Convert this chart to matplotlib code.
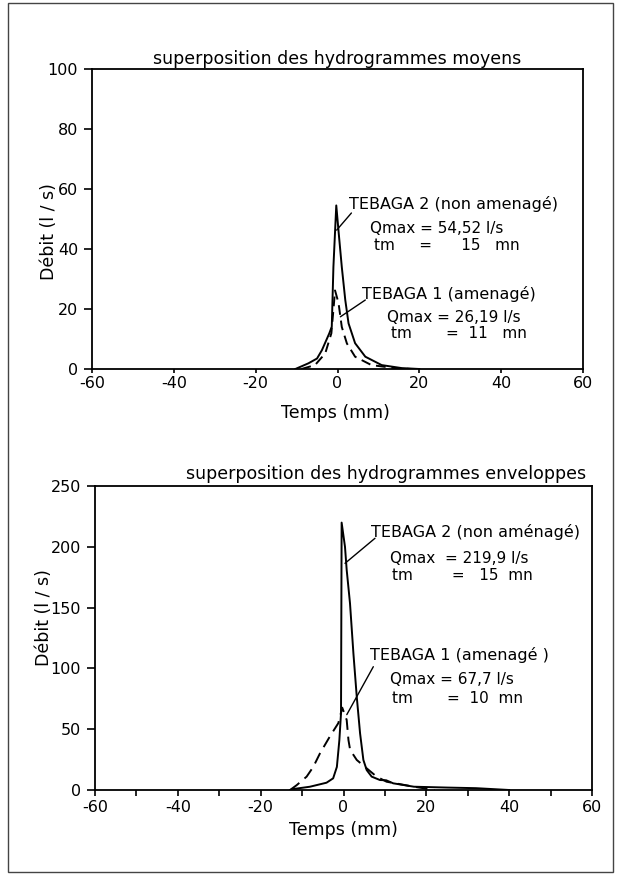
import matplotlib
matplotlib.use("Agg")
import matplotlib.pyplot as plt
from matplotlib.patches import Rectangle
from matplotlib.transforms import ScaledTranslation

# ---- data ----
# top panel: mean hydrographs
t2_moy_x = [-10.3, -7.1, -5.0, -3.8, -2.0, -1.4, -1.0, -0.3, 0.25, 1.05, 1.9, 2.7, 4.3, 6.8, 10.8, 15.7, 20.0]
t2_moy_y = [0.0, 1.9, 3.5, 6.3, 11.9, 14.1, 34.0, 54.52, 46.0, 34.0, 23.0, 15.2, 8.6, 4.1, 1.3, 0.3, 0.0]
t1_moy_x = [-8.8, -5.5, -3.0, -1.5, -1.0, -0.6, 0.25, 1.05, 2.3, 4.3, 8.3, 14.0, 18.0]
t1_moy_y = [0.0, 1.3, 5.2, 11.9, 19.7, 26.19, 22.0, 14.0, 8.5, 4.1, 1.3, 0.3, 0.0]

# bottom panel: envelope hydrographs
t2_env_x = [-12.9, -12.1, -8.1, -4.1, -2.5, -1.6, -1.0, -0.6, -0.45, 0.36, 0.77, 1.57, 2.4, 3.2, 4.0, 4.8,
            5.6, 6.8, 8.8, 10.3, 12.0, 17.0, 25.0, 32.0, 40.0]
t2_env_y = [0.0, 0.8, 2.7, 6.0, 9.6, 19.0, 41.0, 63.0, 219.9, 200.0, 181.0, 153.5, 112.0, 76.7, 46.6, 24.7,
            16.4, 11.0, 8.2, 8.0, 5.5, 2.7, 2.0, 1.5, 0.0]
t1_env_x = [-12.9, -11.3, -8.9, -7.3, -5.7, -3.3, -1.25, -0.3, 0.77, 1.2, 1.6, 3.2, 5.6, 8.0, 10.4, 17.0, 22.0]
t1_env_y = [0.0, 4.0, 11.0, 19.0, 30.0, 44.0, 55.0, 67.7, 57.6, 41.0, 33.0, 24.7, 17.8, 11.0, 6.8, 2.7, 0.0]

x_ticks = [-60, -40, -20, 0, 20, 40, 60]
x_minor_bot = [-50, -30, -10, 10, 30, 50]
y_ticks_top = [0, 20, 40, 60, 80, 100]
y_ticks_bot = [0, 50, 100, 150, 200, 250]

title_top = "superposition des hydrogrammes moyens"
title_bot = "superposition des hydrogrammes enveloppes"

plt.rcParams['font.family'] = ['DejaVu Sans']
FS_TICK = 11.5
FS_LAB = 12.5
FS_HEAD = 11.5
FS_TXT = 11

fig = plt.figure(figsize=(6.17, 8.75), dpi=100)
fig.patch.set_facecolor('white')

# scanned page frame
fig.add_artist(Rectangle((8 / 617, 3 / 875), (613 - 8) / 617, (872 - 3) / 875,
                         transform=fig.transFigure, fill=False, lw=1.0, edgecolor='#444444'))

ax1 = fig.add_axes([92 / 617, 1 - 369 / 875, (583 - 92) / 617, 300 / 875])
ax2 = fig.add_axes([95 / 617, 1 - 790 / 875, (592 - 95) / 617, 304 / 875])

lw = 1.4
ax1.plot(t2_moy_x, t2_moy_y, color='black', lw=lw)
ax1.plot(t1_moy_x, t1_moy_y, color='black', lw=lw, dashes=(5, 3))
ax2.plot(t2_env_x, t2_env_y, color='black', lw=lw)
ax2.plot(t1_env_x, t1_env_y, color='black', lw=lw, dashes=(6, 3.5))

for ax, yt, ymax in ((ax1, y_ticks_top, 100), (ax2, y_ticks_bot, 250)):
    ax.set_xlim(-60, 60)
    ax.set_ylim(0, ymax)
    ax.set_xticks(x_ticks)
    ax.set_xticklabels([("-%d" % -v) if v < 0 else str(v) for v in x_ticks])
    ax.set_yticks(yt)
    for s in ax.spines.values():
        s.set_linewidth(1.3)
    ax.tick_params(axis='x', direction='out', length=4, width=1.2, labelsize=FS_TICK, pad=2)
    ax.tick_params(axis='y', direction='out', length=6, width=1.2, labelsize=FS_TICK, pad=4)
    ax.set_xlabel("Temps (mm)", fontsize=FS_LAB)
    ax.set_ylabel("Débit (l / s)", fontsize=FS_LAB)
    # the first x label sits slightly to the right of its tick in the reference
    first = ax.get_xticklabels()[0]
    first.set_transform(first.get_transform() + ScaledTranslation(4 / 100, 0, fig.dpi_scale_trans))

ax1.tick_params(axis='x', length=3, pad=2)
ax2.set_xticks(x_minor_bot, minor=True)
ax2.tick_params(axis='x', which='minor', direction='out', length=4, width=1.2)
ax2.tick_params(axis='x', which='major', pad=3)

ax1.yaxis.set_label_coords(-0.069, 0.457)
ax2.yaxis.set_label_coords(-0.085, 0.566)
ax1.xaxis.set_label_coords(0.495, -0.117)
ax2.xaxis.set_label_coords(0.50, -0.103)

ax1.text(0.50, 1.035, title_top, transform=ax1.transAxes, ha='center', va='center', fontsize=FS_LAB)
ax2.text(0.585, 1.04, title_bot, transform=ax2.transAxes, ha='center', va='center', fontsize=FS_LAB)

leader = dict(arrowstyle='-', lw=1.0, color='black', shrinkA=0, shrinkB=0)


def note(ax, x, y, s, fs=FS_TXT):
    ax.text(x, y, s, fontsize=fs, va='center', ha='left')


# top annotations
ax1.annotate("", xy=(-0.2, 46.3), xytext=(3.4, 52.0), arrowprops=leader)
note(ax1, 2.9, 55.0, "TEBAGA 2 (non amenagé)", FS_HEAD)
note(ax1, 8.0, 46.7, "Qmax = 54,52 l/s")
note(ax1, 8.8, 41.3, "tm     =      15   mn")

ax1.annotate("", xy=(0.7, 17.4), xytext=(6.8, 23.0), arrowprops=leader)
note(ax1, 5.9, 25.0, "TEBAGA 1 (amenagé)", FS_HEAD)
note(ax1, 12.0, 17.3, "Qmax = 26,19 l/s")
note(ax1, 13.0, 11.9, "tm       =  11   mn")

# bottom annotations
ax2.annotate("", xy=(0.36, 186.4), xytext=(7.6, 207.0), arrowprops=leader)
note(ax2, 6.6, 212.4, "TEBAGA 2 (non aménagé)", FS_HEAD)
note(ax2, 11.2, 190.0, "Qmax  = 219,9 l/s")
note(ax2, 11.6, 176.6, "tm        =   15  mn")

ax2.annotate("", xy=(0.8, 62.0), xytext=(7.2, 101.4), arrowprops=leader)
note(ax2, 6.4, 111.0, "TEBAGA 1 (amenagé )", FS_HEAD)
note(ax2, 11.2, 91.0, "Qmax = 67,7 l/s")
note(ax2, 11.6, 75.0, "tm       =  10  mn")

fig.savefig("out.png", dpi=100)
